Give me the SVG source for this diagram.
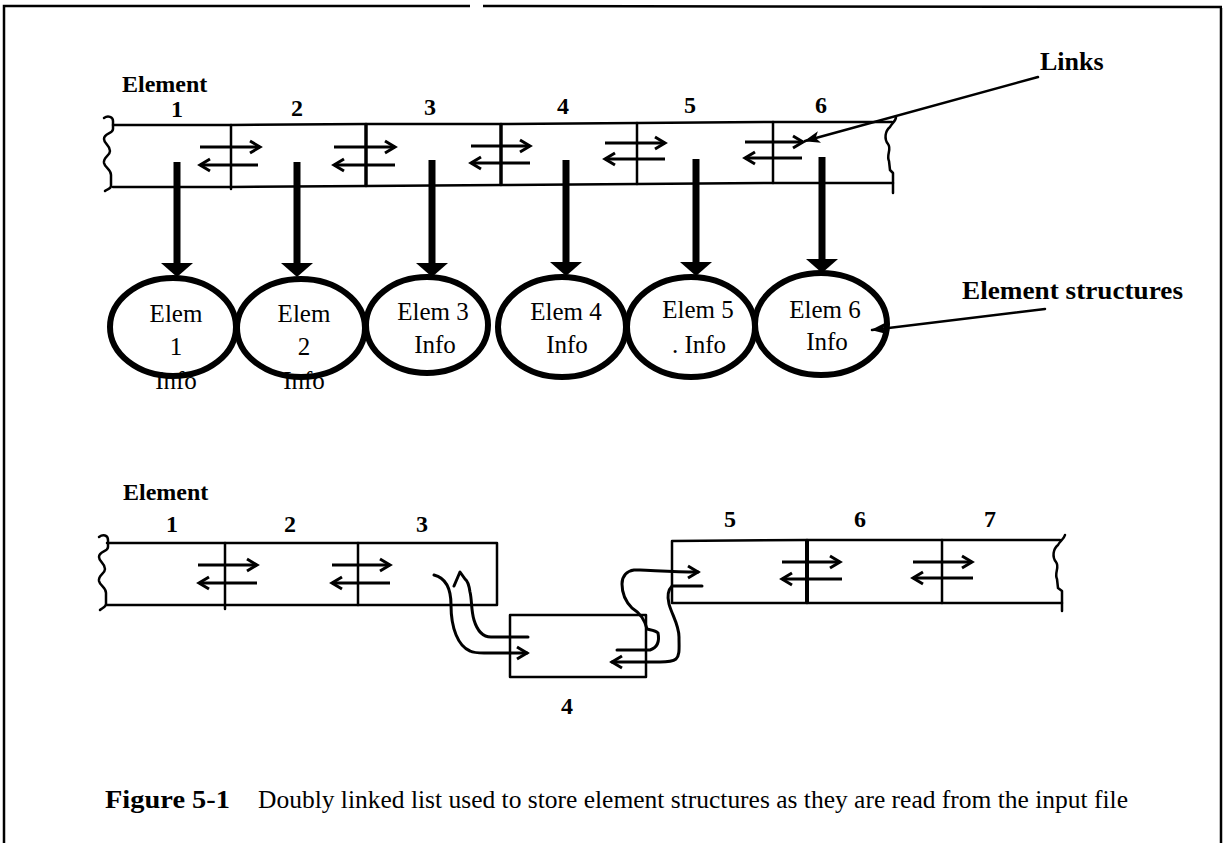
<svg xmlns="http://www.w3.org/2000/svg" width="1226" height="843" viewBox="0 0 1226 843">
<style>
.ln{fill:none;stroke:#000;stroke-width:2.5;stroke-linecap:round;stroke-linejoin:round}
.cv{fill:none;stroke:#000;stroke-width:3;stroke-linecap:round;stroke-linejoin:round}
.thk{fill:none;stroke:#000;stroke-width:3.5}
.lk{fill:none;stroke:#000;stroke-width:3}
.el{fill:#fff;stroke:#000;stroke-width:6}
.shaft{fill:none;stroke:#000;stroke-width:7}
.lbl{font-family:"Liberation Serif","Times New Roman",serif;font-weight:bold;font-size:24px;fill:#000}
.num{font-family:"Liberation Serif","Times New Roman",serif;font-weight:bold;font-size:24px;fill:#000;text-anchor:middle}
.et{font-family:"Liberation Serif","Times New Roman",serif;font-size:25px;fill:#000;text-anchor:middle}
.cap{font-family:"Liberation Serif","Times New Roman",serif;font-size:25px;fill:#000}
.frame{fill:none;stroke:#000;stroke-width:2.5}
</style>
<defs>
<marker id="chev" markerUnits="userSpaceOnUse" viewBox="0 0 12 14" markerWidth="12" markerHeight="14" refX="11" refY="7" orient="auto" overflow="visible">
<path d="M1,1 L11,7 L1,13" fill="none" stroke="#000" stroke-width="3" stroke-linejoin="miter"/>
</marker>
<marker id="tri" markerUnits="userSpaceOnUse" viewBox="0 0 14 32" markerWidth="14" markerHeight="32" refX="0" refY="16" orient="auto">
<path d="M0,0 L14,16 L0,32 z" fill="#000"/>
</marker>
<marker id="ptr" markerUnits="userSpaceOnUse" viewBox="0 0 16 12" markerWidth="16" markerHeight="12" refX="15" refY="6" orient="auto">
<path d="M0,0 L16,6 L0,12 L4,6 z" fill="#000"/>
</marker>
</defs>

<g id="frame">
<path class="frame" d="M4,843 L4,6 L470,6 M483,6 L1222,7 M1221,8 L1221,843"/>
</g>

<g id="labels">
<text class="lbl" x="122" y="92">Element</text>
<text class="lbl" x="1040" y="70" style="font-size:26px">Links</text>
<text class="lbl" x="962" y="299" textLength="221" lengthAdjust="spacingAndGlyphs" style="font-size:26px">Element structures</text>
<text class="lbl" x="123" y="500">Element</text>
</g>

<g id="top-list">
<g id="t-cell-1">
<text class="num" x="177" y="117">1</text>
<path class="ln" d="M113,125 L231,125 M113,187 L231,187"/>
<path class="ln" d="M104,118 C108,115 113,117 113,121 L113,129 C113,134 104,133 104,139 C104,144 110,145 110,151 C110,156 103,157 104,163 C105,168 111,169 111,175 L111,186 C111,189 107,189 105,191"/>
</g>
<g id="t-cell-2"><text class="num" x="297" y="116">2</text><path class="ln" d="M231,125 L366,124 M231,187 L366,186 M231,125 L231,189"/></g>
<g id="t-cell-3"><text class="num" x="430" y="115">3</text><path class="ln" d="M366,124 L501,124 M366,186 L501,185"/><path class="thk" d="M366,124 L366,186"/></g>
<g id="t-cell-4"><text class="num" x="563" y="114">4</text><path class="ln" d="M501,124 L637,123 M501,185 L637,184"/><path class="thk" d="M501,124 L501,185"/></g>
<g id="t-cell-5"><text class="num" x="690" y="113">5</text><path class="ln" d="M637,123 L773,122 M637,184 L773,183 M637,123 L637,184"/></g>
<g id="t-cell-6"><text class="num" x="821" y="113">6</text>
<path class="ln" d="M773,122 L892,122 M773,183 L893,183 M773,122 L773,183"/>
<path class="ln" d="M896,117 C896,121 892,123 890,127 C885,131 884,139 888,144 C892,149 886,155 889,161 L890,170 L893,173 L893,193"/>
</g>
</g>

<g id="elements">
<g id="elem-1"><ellipse class="el" cx="173" cy="327" rx="63" ry="49"/><text class="et" x="176" y="322">Elem</text><text class="et" x="176" y="355">1</text><text class="et" x="176" y="389">Info</text></g>
<g id="elem-2"><ellipse class="el" cx="301" cy="328" rx="64" ry="49"/><text class="et" x="304" y="322">Elem</text><text class="et" x="304" y="355">2</text><text class="et" x="304" y="389">Info</text></g>
<g id="elem-3"><ellipse class="el" cx="427" cy="325" rx="61" ry="48"/><text class="et" x="433" y="320">Elem 3</text><text class="et" x="435" y="353">Info</text></g>
<g id="elem-4"><ellipse class="el" cx="562" cy="327" rx="64" ry="50"/><text class="et" x="566" y="320">Elem 4</text><text class="et" x="567" y="353">Info</text></g>
<g id="elem-5"><ellipse class="el" cx="691" cy="327" rx="64" ry="50"/><text class="et" x="698" y="318">Elem 5</text><text class="et" x="699" y="353">. Info</text></g>
<g id="elem-6"><ellipse class="el" cx="821" cy="324" rx="66" ry="51"/><text class="et" x="825" y="318">Elem 6</text><text class="et" x="827" y="350">Info</text></g>
</g>

<g id="bottom-list">
<g id="b-cell-1"><text class="num" x="172" y="532">1</text>
<path class="ln" d="M107,543 L225,543 M107,605 L225,605"/>
<path class="ln" d="M99,537 C103,534 108,535 108,540 L108,547 C108,552 99,551 99,557 C99,562 105,563 105,569 C105,574 98,575 99,581 C100,586 106,587 106,593 L106,604 C106,607 102,608 100,610"/>
</g>
<g id="b-cell-2"><text class="num" x="290" y="532">2</text><path class="ln" d="M225,543 L358,543 M225,605 L358,605 M225,543 L225,609"/></g>
<g id="b-cell-3"><text class="num" x="422" y="532">3</text><path class="ln" d="M358,543 L497,543 L497,605 L358,605 M358,543 L358,605"/></g>
<g id="b-cell-4"><rect class="ln" x="510" y="615" width="136" height="62"/><text class="num" x="567" y="714">4</text></g>
<g id="b-cell-5"><text class="num" x="730" y="527">5</text><path class="ln" d="M672,541 L807,540 M672,603 L807,603 M672,541 L672,603"/></g>
<g id="b-cell-6"><text class="num" x="860" y="527">6</text><path class="ln" d="M807,540 L942,540 M807,603 L942,603"/><path class="thk" style="stroke-width:4" d="M807,540 L807,603"/></g>
<g id="b-cell-7"><text class="num" x="990" y="527">7</text>
<path class="ln" d="M942,540 L1060,540 M942,603 L1062,603 M942,540 L942,603"/>
<path class="ln" d="M1065,535 C1064,539 1060,541 1058,545 C1053,549 1052,557 1056,562 C1060,567 1054,573 1057,579 L1058,588 L1062,591 L1062,611"/>
</g>
</g>

<g id="connectors">
<path class="lk" marker-end="url(#chev)" d="M200,147 L260,147"/>
<path class="lk" marker-end="url(#chev)" d="M258,165 L200,165"/>
<path class="lk" marker-end="url(#chev)" d="M334,147 L395,147"/>
<path class="lk" marker-end="url(#chev)" d="M395,165 L334,165"/>
<path class="lk" marker-end="url(#chev)" d="M471,146 L530,146"/>
<path class="lk" marker-end="url(#chev)" d="M530,163 L471,163"/>
<path class="lk" marker-end="url(#chev)" d="M605,143 L665,143"/>
<path class="lk" marker-end="url(#chev)" d="M665,159 L605,159"/>
<path class="lk" marker-end="url(#chev)" d="M745,142 L803,142"/>
<path class="lk" marker-end="url(#chev)" d="M802,158 L745,158"/>
<path class="shaft" marker-end="url(#tri)" d="M177,162 L177,263"/>
<path class="shaft" marker-end="url(#tri)" d="M297,162 L297,263"/>
<path class="shaft" marker-end="url(#tri)" d="M432,160 L432,263"/>
<path class="shaft" marker-end="url(#tri)" d="M566,160 L566,262"/>
<path class="shaft" marker-end="url(#tri)" d="M696,159 L696,262"/>
<path class="shaft" marker-end="url(#tri)" d="M822,157 L822,259"/>
<path class="ln" marker-end="url(#ptr)" d="M1038,77 L805,141"/>
<path class="ln" marker-end="url(#ptr)" d="M1045,309 L872,330"/>
<path class="lk" marker-end="url(#chev)" d="M198,565 L257,565"/>
<path class="lk" marker-end="url(#chev)" d="M257,583 L199,583"/>
<path class="lk" marker-end="url(#chev)" d="M332,565 L390,565"/>
<path class="lk" marker-end="url(#chev)" d="M390,583 L332,583"/>
<path class="lk" marker-end="url(#chev)" d="M782,562 L840,562"/>
<path class="lk" marker-end="url(#chev)" d="M842,579 L782,579"/>
<path class="lk" marker-end="url(#chev)" d="M913,562 L972,562"/>
<path class="lk" marker-end="url(#chev)" d="M973,578 L913,578"/>
<path class="cv" marker-end="url(#chev)" d="M434,575 C446,578 451,590 451,605 C451,628 458,646 470,651 C474,653 478,653 484,653 L527,653"/>
<path class="cv" d="M528,637 L491,637 C482,637 477,630 474,620 C471,610 472,600 470,592 C469,585 468,581 465,579 L460,572 L454,586"/>
<path class="cv" marker-end="url(#chev)" d="M617,650 L650,650 C656,648 660,643 658,633 C655,630 650,630 647,629 C645,620 640,613 632,608 C625,601 622,592 622,584 C622,576 627,571 634,570 L640,570 C650,570 670,572 698,572"/>
<path class="cv" marker-end="url(#chev)" d="M702,586 L672,586 C668,590 667,596 669,604 C672,615 679,625 679,637 C679,648 680,655 676,659 C672,662 665,662 660,662 L612,662"/>
</g>

<g id="caption">
<text class="cap" x="105" y="808" font-weight="bold" textLength="125" lengthAdjust="spacingAndGlyphs">Figure 5-1</text>
<text class="cap" x="258" y="808" textLength="870" lengthAdjust="spacingAndGlyphs">Doubly linked list used to store element structures as they are read from the input file</text>
</g>
</svg>
